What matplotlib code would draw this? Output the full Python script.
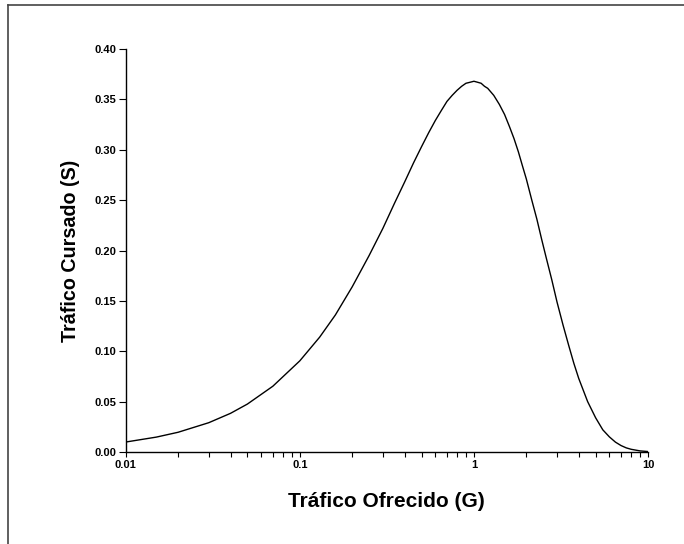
import matplotlib

matplotlib.use("Agg")
import matplotlib.pyplot as plt
from matplotlib.lines import Line2D
from matplotlib.ticker import FixedLocator, LogLocator, NullFormatter

# values
offered = [0.01, 0.015, 0.02, 0.03, 0.04, 0.05, 0.07, 0.1, 0.13, 0.16, 0.2, 0.25,
           0.3, 0.35, 0.4, 0.45, 0.5, 0.55, 0.6, 0.65, 0.7, 0.75, 0.8, 0.85, 0.9,
           0.95, 1.0, 1.05, 1.1, 1.15, 1.2, 1.3, 1.4, 1.5, 1.6, 1.7, 1.8, 1.9,
           2.0, 2.15, 2.3, 2.45, 2.6, 2.8, 3.0, 3.25, 3.5, 3.75, 4.0, 4.5, 5.0,
           5.5, 6.0, 6.5, 7.0, 7.5, 8.0, 9.0, 10.0]
carried = [0.0099, 0.0148, 0.0196, 0.0291, 0.0384, 0.0476, 0.0653, 0.0905, 0.114,
           0.136, 0.164, 0.195, 0.222, 0.247, 0.268, 0.287, 0.303, 0.317, 0.329,
           0.339, 0.348, 0.354, 0.359, 0.363, 0.366, 0.367, 0.368, 0.367, 0.366,
           0.363, 0.361, 0.354, 0.345, 0.335, 0.323, 0.311, 0.298, 0.284, 0.271,
           0.250, 0.231, 0.211, 0.193, 0.171, 0.149, 0.126, 0.106, 0.088, 0.073,
           0.050, 0.034, 0.022, 0.015, 0.0098, 0.0064, 0.0041, 0.0027, 0.0011,
           0.00045]
x_ticks = [0.01, 0.1, 1, 10]
x_ticklabels = ["0.01", "0.1", "1", "10"]
y_ticks = [0.00, 0.05, 0.10, 0.15, 0.20, 0.25, 0.30, 0.35, 0.40]

plt.rcParams["font.family"] = ["Liberation Sans", "DejaVu Sans"]
plt.rcParams["font.weight"] = "bold"

fig = plt.figure(figsize=(6.84, 5.44), dpi=100)
ax = fig.add_axes([0.1838, 0.1691, 0.9474 - 0.1838, 0.9099 - 0.1691])

ax.plot(offered, carried, color="black", linewidth=1.0)
ax.set_xscale("log")
ax.set_xlim(0.01, 10)
ax.set_ylim(0, 0.40)

ax.xaxis.set_major_locator(FixedLocator(x_ticks))
ax.set_xticklabels(x_ticklabels)
ax.xaxis.set_minor_locator(LogLocator(base=10, subs=range(2, 10)))
ax.xaxis.set_minor_formatter(NullFormatter())
ax.set_yticks(y_ticks)
ax.set_yticklabels([f"{v:.2f}" for v in y_ticks])

for side in ("top", "right"):
    ax.spines[side].set_visible(False)
for side in ("left", "bottom"):
    ax.spines[side].set_linewidth(1.0)

ax.tick_params(axis="x", which="both", direction="out", length=3.5, width=0.8,
               labelsize=8, pad=2)
ax.tick_params(axis="y", which="major", direction="out", length=5, width=0.8,
               labelsize=8, pad=1.5)

ax.set_xlabel("Tráfico Ofrecido (G)", fontsize=15, fontweight="bold", labelpad=16)
ax.set_ylabel("Tráfico Cursado (S)", fontsize=14.2, fontweight="bold", labelpad=11)

# frame lines at the left and top of the figure
fig.add_artist(Line2D([8 / 684, 8 / 684], [0, 1 - 5 / 544], transform=fig.transFigure,
                      color="#444444", linewidth=1.2))
fig.add_artist(Line2D([8 / 684, 1], [1 - 5 / 544, 1 - 5 / 544], transform=fig.transFigure,
                      color="#444444", linewidth=1.2))

fig.savefig("out.png", dpi=100)
